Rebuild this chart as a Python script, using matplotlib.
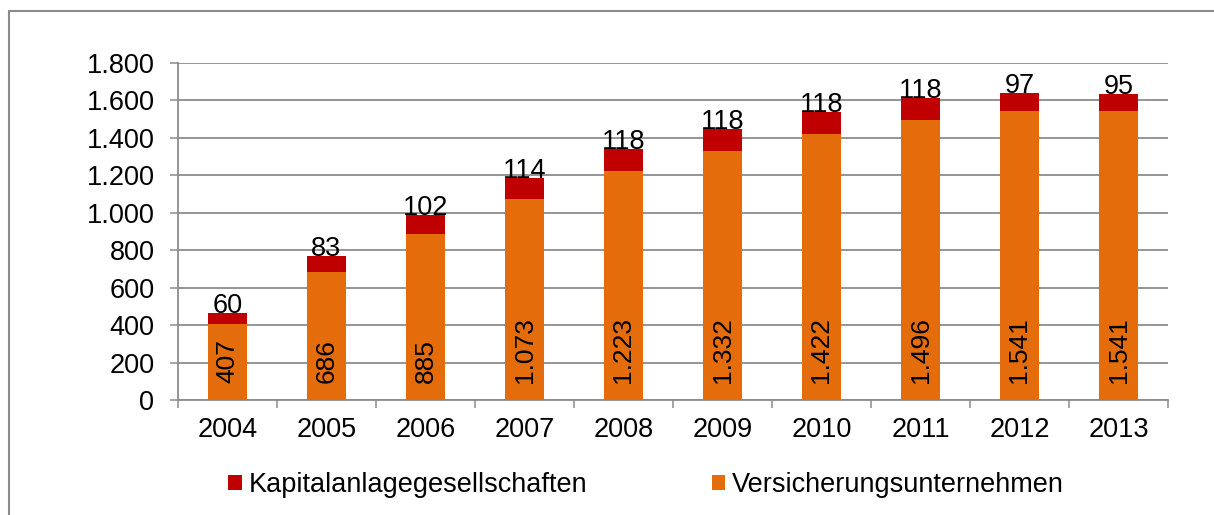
import matplotlib
matplotlib.use("Agg")
import matplotlib.pyplot as plt
from matplotlib.patches import Rectangle
import numpy as np

plt.rcParams['font.family'] = ['Liberation Sans', 'DejaVu Sans']

years = ['2004', '2005', '2006', '2007', '2008', '2009', '2010', '2011', '2012', '2013']
versicherung = [407, 686, 885, 1073, 1223, 1332, 1422, 1496, 1541, 1541]
kapital = [60, 83, 102, 114, 118, 118, 118, 118, 97, 95]

orange = '#E46C0A'
red = '#C00000'
grey = '#8C8C8C'


def de_fmt(v):
    return f"{int(v):,}".replace(",", ".")


fig = plt.figure(figsize=(12.14, 5.15), dpi=100)
ax = fig.add_axes([178 / 1214, 1 - 400 / 515, (1168 - 178) / 1214, (400 - 63) / 515])

x = np.arange(len(years))
b1 = ax.bar(x, versicherung, width=0.4, color=orange, label='Versicherungsunternehmen', zorder=3)
b2 = ax.bar(x, kapital, width=0.4, bottom=versicherung, color=red,
            label='Kapitalanlagegesellschaften', zorder=3)

# labels inside the orange bars, rotated
for xi, v in zip(x, versicherung):
    ax.annotate(de_fmt(v), (xi, 0), xytext=(0, 12), textcoords='offset points',
                rotation=90, ha='center', va='bottom', fontsize=19, zorder=4)

# labels on top of the red part
for xi, v, k in zip(x, versicherung, kapital):
    ax.annotate(de_fmt(k), (xi, v + k), xytext=(0, 0), textcoords='offset points',
                ha='center', va='baseline', fontsize=19.5, zorder=4)

ax.set_ylim(0, 1800)
ax.set_xlim(-0.5, len(years) - 0.5)
ax.set_yticks(range(0, 1801, 200))
ax.set_yticklabels([de_fmt(v) for v in range(0, 1801, 200)])
ax.set_xticks(x)
ax.set_xticklabels(years)
ax.set_xticks(np.arange(-0.5, len(years)), minor=True)
ax.tick_params(axis='x', which='major', length=0, pad=12, labelsize=19.5)
ax.tick_params(axis='x', which='minor', length=6, width=1.1, color=grey)
ax.tick_params(axis='y', length=6, width=1.1, color=grey, pad=11, labelsize=19.5)

ax.grid(axis='y', color=grey, linewidth=1.3, zorder=0)
for s in ['top', 'right']:
    ax.spines[s].set_visible(False)
for s in ['left', 'bottom']:
    ax.spines[s].set_color(grey)
    ax.spines[s].set_linewidth(1.3)

fig.legend(handles=[b2, b1], labels=['Kapitalanlagegesellschaften', 'Versicherungsunternehmen'],
           loc='center', bbox_to_anchor=(646 / 1214, 1 - 485 / 515), ncol=2, frameon=False,
           fontsize=19.5, handlelength=0.5, handleheight=0.5, handletextpad=0.25,
           columnspacing=4.6)

# outer frame (only top and left visible in the crop)
fig.add_artist(Rectangle((9 / 1214, -0.2), 1.2, 1.2 - 11 / 515, transform=fig.transFigure,
                         fill=False, edgecolor=grey, linewidth=1.5))

fig.savefig('out.png', dpi=100)
